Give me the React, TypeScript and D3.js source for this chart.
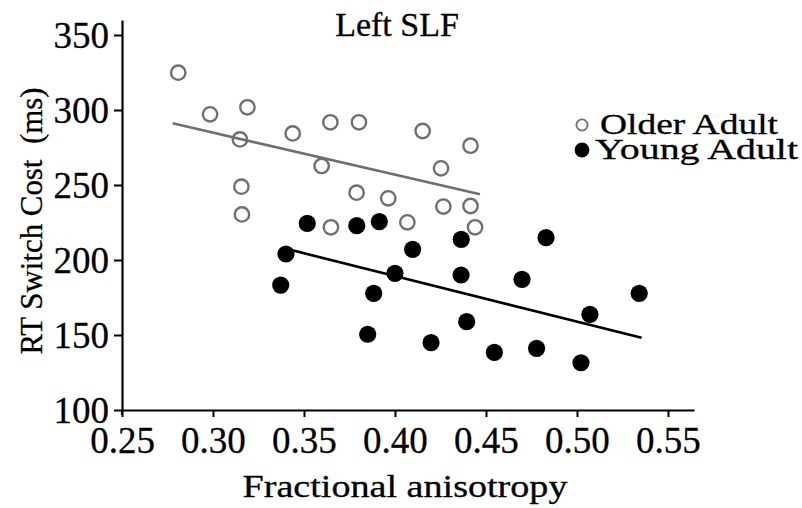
import * as d3 from "d3";
import { useEffect, useRef } from "react";

type Pt = [number, number];

const olderFA = [
  0.2809, 0.2984, 0.3189, 0.3148, 0.3438, 0.3645, 0.3802, 0.4152, 0.4415, 0.3597,
  0.4253, 0.3156, 0.3789, 0.3963, 0.3159, 0.4266, 0.4415, 0.3648, 0.4068, 0.444,
];
const olderRT = [
  324.9, 297.1, 301.8, 280.4, 284.4, 291.8, 291.8, 286, 276.2, 262.7,
  261.1, 248.9, 244.9, 241.1, 230.4, 235.6, 236, 221.8, 225.1, 221.8,
];
const youngFA = [
  0.3518, 0.379, 0.3914, 0.3401, 0.3372, 0.4097, 0.4364, 0.483, 0.4, 0.4363,
  0.4698, 0.3883, 0.5342, 0.5071, 0.4394, 0.385, 0.4198, 0.4546, 0.4778, 0.5022,
];
const youngRT = [
  224.4, 222.9, 225.6, 204, 183.3, 207.1, 213.8, 214.9, 191.1, 190,
  187.1, 177.8, 177.8, 163.8, 158.9, 150.5, 144.9, 138.4, 141.1, 131.5,
];
// fitted line end points
const olderFit: Pt[] = [[0.2778, 291.1], [0.4467, 243.8]];
const youngFit: Pt[] = [[0.3414, 207.1], [0.5355, 148.2]];

const xTicks = [0.25, 0.3, 0.35, 0.4, 0.45, 0.5, 0.55];
const yTicks = [100, 150, 200, 250, 300, 350];

const FONT = "Times New Roman, Liberation Serif, Tinos, Times, serif";
const GREY = "#6f6f6f";

const x = d3.scaleLinear().domain([0.25, 0.5643]).range([122, 694]);
const y = d3.scaleLinear().domain([100, 360]).range([410, 20]);

const App = () => {
  const xAxisRef = useRef<SVGGElement | null>(null);
  const yAxisRef = useRef<SVGGElement | null>(null);

  useEffect(() => {
    if (xAxisRef.current) {
      const g = d3.select(xAxisRef.current);
      g.selectAll("*").remove();
      g.call(
        d3.axisBottom(x).tickValues(xTicks).tickFormat(d3.format(".2f")).tickSize(7).tickSizeOuter(0).tickPadding(5)
      );
      g.attr("font-family", FONT);
      g.select(".domain").attr("stroke-width", 2.2);
      g.selectAll(".tick line").attr("stroke-width", 2);
      g.selectAll("text")
        .style("font-family", FONT)
        .attr("font-size", 37)
        .attr("fill", "#000")
        .attr("stroke", "#000")
        .attr("stroke-width", 0.3)
        .attr("y", 43)
        .attr("dy", 0);
    }
    if (yAxisRef.current) {
      const g = d3.select(yAxisRef.current);
      g.selectAll("*").remove();
      g.call(d3.axisLeft(y).tickValues(yTicks).tickSize(8).tickSizeOuter(0).tickPadding(5));
      g.attr("font-family", FONT);
      g.select(".domain").attr("stroke-width", 2.2);
      g.selectAll(".tick line").attr("stroke-width", 2);
      g.selectAll("text")
        .style("font-family", FONT)
        .attr("font-size", 37)
        .attr("fill", "#000")
        .attr("stroke", "#000")
        .attr("stroke-width", 0.3)
        .attr("dy", "0.34em");
    }
  }, []);

  const line = d3
    .line<Pt>()
    .x((d) => x(d[0]))
    .y((d) => y(d[1]));

  const textStyle = { stroke: "#000", strokeWidth: 0.3 };

  return (
    <svg
      width={802}
      height={508}
      style={{ position: "absolute", left: 0, top: 0, background: "#fff", fontFamily: FONT }}
    >
      <rect x={0} y={0} width={802} height={508} fill="#fff" />
      <text x={397} y={36} textAnchor="middle" fontSize={34} fill="#000" style={textStyle}>
        Left SLF
      </text>

      <path d={line(olderFit) ?? ""} fill="none" stroke={GREY} strokeWidth={2.6} />
      <path d={line(youngFit) ?? ""} fill="none" stroke="#000" strokeWidth={2.6} />

      {olderFA.map((fa, i) => (
        <circle key={`o${i}`} cx={x(fa)} cy={y(olderRT[i])} r={7.2} fill="none" stroke={GREY} strokeWidth={2.4} />
      ))}
      {youngFA.map((fa, i) => (
        <circle key={`y${i}`} cx={x(fa)} cy={y(youngRT[i])} r={8.6} fill="#000" />
      ))}

      <g ref={xAxisRef} transform={`translate(0,${y(100)})`} />
      <g ref={yAxisRef} transform={`translate(${x(0.25)},0)`} />
      <line x1={x(0.25)} x2={x(0.25)} y1={y(100)} y2={y(100) + 5} stroke="#000" strokeWidth={2.2} />

      <text
        x={405}
        y={497}
        textAnchor="middle"
        fontSize={31}
        fill="#000"
        style={textStyle}
        textLength={325}
        lengthAdjust="spacingAndGlyphs"
      >
        Fractional anisotropy
      </text>
      <text
        transform="translate(42,221) rotate(-90)"
        textAnchor="middle"
        fontSize={31}
        fill="#000"
        style={{ ...textStyle, whiteSpace: "pre" }}
        textLength={267}
        lengthAdjust="spacingAndGlyphs"
      >
        {"RT Switch Cost  (ms)"}
      </text>

      <circle cx={582} cy={125} r={5.6} fill="none" stroke={GREY} strokeWidth={1.8} />
      <text x={600} y={134} fontSize={30} fill="#000" style={textStyle} textLength={178} lengthAdjust="spacingAndGlyphs">
        Older Adult
      </text>
      <circle cx={582} cy={150} r={7.4} fill="#000" />
      <text x={595} y={159} fontSize={30} fill="#000" style={textStyle} textLength={203} lengthAdjust="spacingAndGlyphs">
        Young Adult
      </text>
    </svg>
  );
};

export default App;
